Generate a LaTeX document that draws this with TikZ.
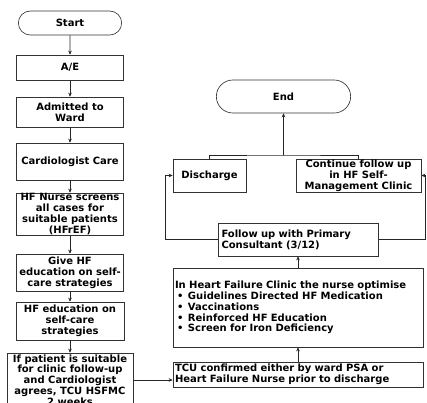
\documentclass[tikz,border=0pt]{standalone}
\usepackage{fontspec}
\setsansfont{DejaVu Sans}
\usetikzlibrary{arrows.meta,positioning,shapes.misc}

\begin{document}
\begin{tikzpicture}[
x=1pt, y=-1pt,
font=\bfseries\sffamily\fontsize{10}{10.8}\selectfont,
box/.style={draw=black!80, line width=0.65pt, align=center, inner sep=0.5pt},
terminal/.style={draw=black!80, line width=0.65pt, rounded rectangle},
flow/.style={-{Stealth[length=4pt,width=3.6pt]}, line width=0.65pt, black!85},
link/.style={line width=0.65pt, black!85}
]
    \useasboundingbox (0,0) rectangle (427,402);

    % Left column
    \node[terminal, minimum width=110pt, minimum height=24pt] (start) at (70,23) {Start};
    \node[box, minimum width=107pt, minimum height=25pt] (ae) at (70,67.5) {A/E};
    \node[box, minimum width=107pt, minimum height=30pt] (ward) at (70,112) {Admitted to\\Ward};
    \node[box, minimum width=107pt, minimum height=37pt] (cardio) at (70,161.5) {Cardiologist Care};
    \node[box, minimum width=107pt, minimum height=40pt] (screen) at (70,214) {HF Nurse screens\\all cases for\\suitable patients\\(HFrEF)};
    \node[box, minimum width=107pt, minimum height=37pt] (give) at (70,272.5) {Give HF\\education on self-\\care strategies};
    \node[box, minimum width=108pt, minimum height=38pt] (hfedu) at (70,321) {HF education on\\self-care\\strategies};
    \node[box, minimum width=126pt, minimum height=54pt] (suitable) at (70,380) {If patient is suitable\\for clinic follow-up\\and Cardiologist\\agrees, TCU HSFMC\\2 weeks};

    \draw[flow] (start) -- (ae);
    \draw[flow] (ae) -- (ward);
    \draw[flow] (ward) -- (cardio);
    \draw[flow] (cardio) -- (screen);
    \draw[flow] (screen) -- (give);
    \draw[flow] (give) -- (hfedu);
    \draw[flow] (hfedu) -- (suitable);

    % Right column
    \node[terminal, minimum width=141pt, minimum height=33pt] (end) at (283.5,96.5) {End};
    \node[box, minimum width=73pt, minimum height=33pt] (discharge) at (209.5,175.5) {Discharge};
    \node[box, minimum width=125pt, minimum height=33pt] (continue) at (358.5,175.5) {Continue follow up\\in HF Self-\\Management Clinic};
    \node[box, align=left, inner xsep=3pt, text width=154pt, minimum height=33pt] (follow) at (298.5,239.5) {Follow up with Primary\\Consultant (3/12)};
    \node[box, align=left, inner xsep=2pt, text width=246pt, minimum height=79pt] (clinic) at (298,307.5) {In Heart Failure Clinic the nurse optimise\\
      \makebox[13pt][l]{\hspace{2pt}\textbullet}Guidelines Directed HF Medication\\
      \makebox[13pt][l]{\hspace{2pt}\textbullet}Vaccinations\\
      \makebox[13pt][l]{\hspace{2pt}\textbullet}Reinforced HF Education\\
      \makebox[13pt][l]{\hspace{2pt}\textbullet}Screen for Iron Deficiency};
    \node[box, align=left, inner xsep=2pt, text width=246pt, minimum height=25pt] (tcu) at (298,374.5) {TCU confirmed either by ward PSA or\\Heart Failure Nurse prior to discharge};

    \draw
      (165,175.5) coordinate (dleft)
      (425.5,175.5) coordinate (cright)
      (283.5,155) coordinate (join);

    \draw[flow] (suitable) -- (suitable -| tcu.west);
    \draw[flow] (tcu) -- (tcu |- clinic.south);
    \draw[flow] (clinic) -- (clinic |- follow.south);
    \draw[flow] (follow.west) -| (dleft) -- (discharge.west);
    \draw[flow] (follow.east) -| (cright) -- (continue.east);
    \draw[link] (discharge.north) |- (join) -| (continue.north);
    \draw[flow] (join) -- (end);

\end{tikzpicture}
\end{document}
